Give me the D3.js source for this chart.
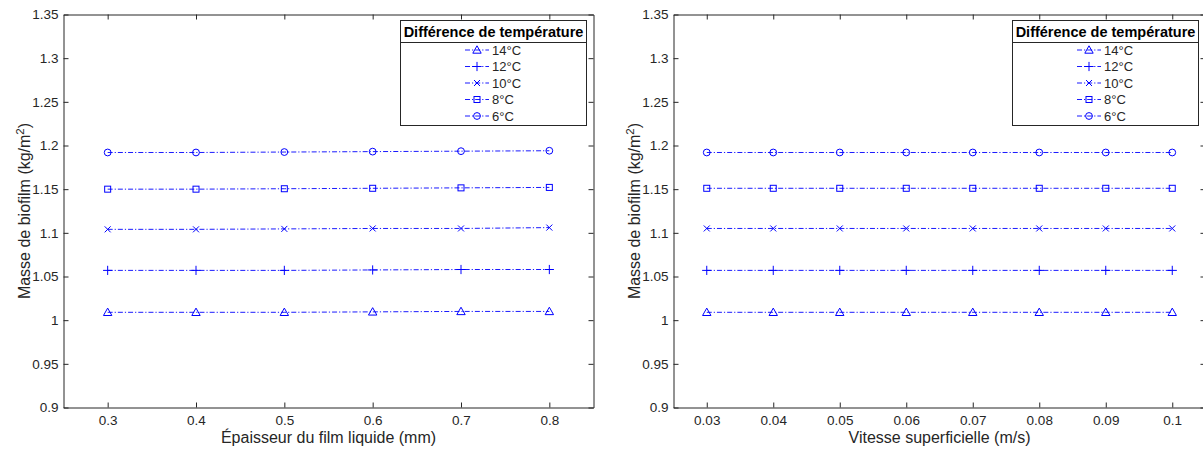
<!DOCTYPE html>
<html>
<head>
<meta charset="utf-8">
<script src="https://cdn.jsdelivr.net/npm/d3@7"></script>
<style>
body{margin:0;background:#fff;}
svg{display:block;font-family:"Liberation Sans",Arial,sans-serif;}
</style>
</head>
<body>
<svg id="chart" width="1203" height="452"></svg>
<script>
// ---- data ----
const seriesNames = ["14°C","12°C","10°C","8°C","6°C"];
const markerTypes = ["triangle","plus","cross","square","circle"];
const thicknessX = [0.3,0.4,0.5,0.6,0.7,0.8];
const thickness14 = [1.009,1.009,1.009,1.0095,1.010,1.010];
const thickness12 = [1.057,1.057,1.057,1.0575,1.058,1.058];
const thickness10 = [1.104,1.104,1.1045,1.105,1.105,1.106];
const thickness8  = [1.150,1.150,1.1505,1.151,1.1515,1.152];
const thickness6  = [1.192,1.192,1.1925,1.193,1.1935,1.194];
const velocityX = [0.03,0.04,0.05,0.06,0.07,0.08,0.09,0.1];
const velocity14 = [1.009,1.009,1.009,1.009,1.009,1.009,1.009,1.009];
const velocity12 = [1.057,1.057,1.057,1.057,1.057,1.057,1.057,1.057];
const velocity10 = [1.105,1.105,1.105,1.105,1.105,1.105,1.105,1.105];
const velocity8  = [1.151,1.151,1.151,1.151,1.151,1.151,1.151,1.151];
const velocity6  = [1.192,1.192,1.192,1.192,1.192,1.192,1.192,1.192];
const yTicks = [0.9,0.95,1,1.05,1.1,1.15,1.2,1.25,1.3,1.35];
const thicknessTicks = [0.3,0.4,0.5,0.6,0.7,0.8];
const velocityTicks = [0.03,0.04,0.05,0.06,0.07,0.08,0.09,0.1];
const legendTitle = "Différence de température";
const yLabel = "Masse de biofilm (kg/m";
const xLabelLeft = "Épaisseur du film liquide (mm)";
const xLabelRight = "Vitesse superficielle (m/s)";

const svg = d3.select("#chart");
const BLUE = "#0000ff";
const AX = "#262626";

function fmt(d){ return String(+d.toFixed(3)); }

function marker(g, type, x, y){
  const s = 3.6;
  if(type==="circle"){
    g.append("circle").attr("cx",x).attr("cy",y).attr("r",3.4).attr("fill","none").attr("stroke",BLUE).attr("stroke-width",1);
  } else if(type==="square"){
    g.append("rect").attr("x",x-3).attr("y",y-3).attr("width",6).attr("height",6).attr("fill","none").attr("stroke",BLUE).attr("stroke-width",1);
  } else if(type==="triangle"){
    g.append("path").attr("d",`M${x},${y-4.2}L${x+4.2},${y+3.2}L${x-4.2},${y+3.2}Z`).attr("fill","none").attr("stroke",BLUE).attr("stroke-width",1);
  } else if(type==="plus"){
    g.append("path").attr("d",`M${x-s-1},${y}H${x+s+1}M${x},${y-s-1}V${y+s+1}`).attr("fill","none").attr("stroke",BLUE).attr("stroke-width",1);
  } else if(type==="cross"){
    g.append("path").attr("d",`M${x-3},${y-3}L${x+3},${y+3}M${x-3},${y+3}L${x+3},${y-3}`).attr("fill","none").attr("stroke",BLUE).attr("stroke-width",1);
  }
}

function panel(opts){
  const {left,right,top,bottom,xDomain,xTicks,xs,seriesList,xLabel,legendX} = opts;
  const g = svg.append("g");
  const x = d3.scaleLinear().domain(xDomain).range([left,right]);
  const y = d3.scaleLinear().domain([0.9,1.35]).range([bottom,top]);

  // series
  seriesList.forEach((vals,i)=>{
    const pts = xs.map((xv,j)=>[x(xv),y(vals[j])]);
    g.append("path").attr("d",d3.line()(pts)).attr("fill","none")
      .attr("stroke",BLUE).attr("stroke-width",0.9).attr("stroke-dasharray","5,2,1.2,2");
    pts.forEach(p=>marker(g,markerTypes[i],p[0],p[1]));
  });

  // axes
  const xAxis = d3.axisBottom(x).tickValues(xTicks).tickFormat(fmt).tickSizeInner(-5).tickSizeOuter(0).tickPadding(8);
  const yAxis = d3.axisLeft(y).tickValues(yTicks).tickFormat(fmt).tickSizeInner(-5).tickSizeOuter(0).tickPadding(5);
  const xTop = d3.axisTop(x).tickValues(xTicks).tickFormat("").tickSizeInner(-5).tickSizeOuter(0);
  const yRight = d3.axisRight(y).tickValues(yTicks).tickFormat("").tickSizeInner(-5).tickSizeOuter(0);
  const styleAxis = s => {
    s.selectAll("path").attr("stroke",AX).attr("stroke-width",1);
    s.selectAll("line").attr("stroke",AX).attr("stroke-width",1);
    s.selectAll("text").attr("fill",AX).attr("font-size",13.5).attr("font-family","Liberation Sans, Arial, sans-serif");
  };
  g.append("g").attr("transform",`translate(0,${bottom})`).call(xAxis).call(styleAxis);
  g.append("g").attr("transform",`translate(${left},0)`).call(yAxis).call(styleAxis);
  g.append("g").attr("transform",`translate(0,${top})`).call(xTop).call(styleAxis);
  g.append("g").attr("transform",`translate(${right},0)`).call(yRight).call(styleAxis);

  // labels
  g.append("text").attr("x",(left+right)/2).attr("y",443)
    .attr("text-anchor","middle").attr("font-size",16).attr("fill",AX).text(xLabel);
  const yl = g.append("text").attr("transform",`translate(${left-34},${(top+bottom)/2}) rotate(-90)`)
    .attr("text-anchor","middle").attr("font-size",16).attr("fill",AX);
  yl.append("tspan").text(yLabel);
  yl.append("tspan").attr("dy",-6).attr("font-size",11.5).text("2");
  yl.append("tspan").attr("dy",6).text(")");

  // legend
  const lg = g.append("g").attr("transform",`translate(${legendX},20)`);
  const lw = 186;
  lg.append("rect").attr("x",0.5).attr("y",0.5).attr("width",lw).attr("height",105)
    .attr("fill","#fff").attr("stroke",AX).attr("stroke-width",1);
  lg.append("line").attr("x1",0.5).attr("x2",lw+0.5).attr("y1",22.5).attr("y2",22.5).attr("stroke",AX).attr("stroke-width",1);
  lg.append("text").attr("x",lw/2+0.5).attr("y",16.5).attr("text-anchor","middle")
    .attr("font-size",14.5).attr("font-weight","bold").attr("fill","#000").text(legendTitle);
  seriesNames.forEach((name,i)=>{
    const cy = 30 + i*16.5;
    lg.append("line").attr("x1",65).attr("x2",89).attr("y1",cy).attr("y2",cy)
      .attr("stroke",BLUE).attr("stroke-width",0.9).attr("stroke-dasharray","5,2,1.2,2");
    marker(lg,markerTypes[i],77,cy);
    lg.append("text").attr("x",92).attr("y",cy+4.5).attr("font-size",13).attr("fill",AX).text(name);
  });
}

panel({left:63.5,right:593.5,top:14.5,bottom:407.5,xDomain:[0.25,0.85],xTicks:thicknessTicks,xs:thicknessX,
  seriesList:[thickness14,thickness12,thickness10,thickness8,thickness6],xLabel:xLabelLeft,legendX:400});
panel({left:673.5,right:1205.5,top:14.5,bottom:407.5,xDomain:[0.025,0.105],xTicks:velocityTicks,xs:velocityX,
  seriesList:[velocity14,velocity12,velocity10,velocity8,velocity6],xLabel:xLabelRight,legendX:1012});
</script>
</body>
</html>
